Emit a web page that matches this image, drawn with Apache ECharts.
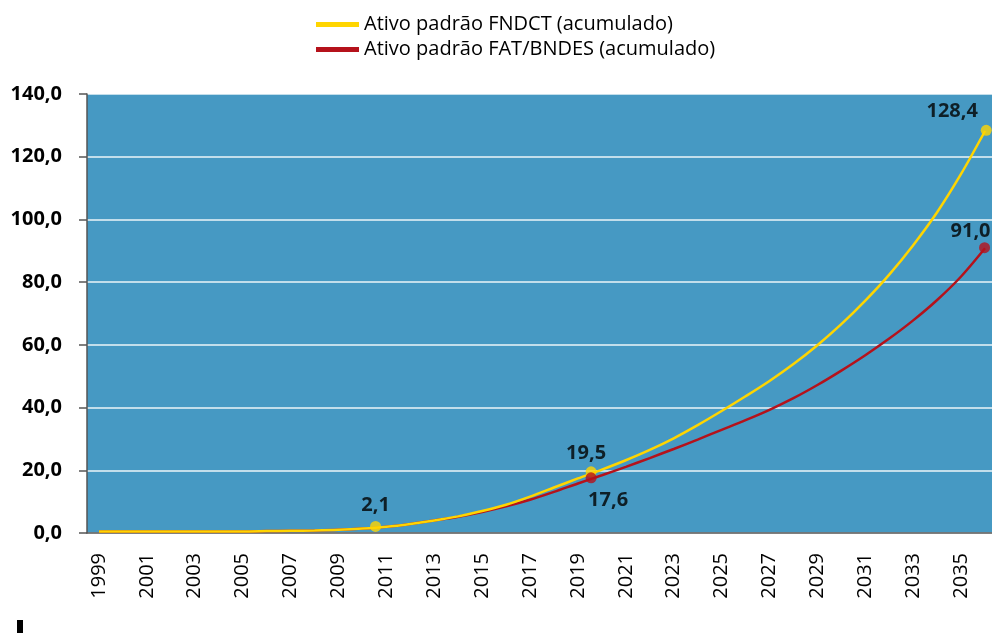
<!DOCTYPE html>
<html>
<head>
    <meta charset="utf-8">
    <title>Ativo padrão FNDCT x FAT/BNDES</title>
    <script src="https://cdn.jsdelivr.net/npm/echarts@6/dist/echarts.min.js"></script>
    <style type="text/css">
        * {
            margin: 0px;
            padding: 0px;
        }

        #main {
            width: 992px;
            height: 633px;
            background: #fff;
        }
    </style>
</head>
<body>
<div id="main"></div>
<script type="text/javascript">
    // anos do eixo x
    var years = [1999, 2000, 2001, 2002, 2003, 2004, 2005, 2006, 2007, 2008, 2009,
        2010, 2011, 2012, 2013, 2014, 2015, 2016, 2017, 2018, 2019, 2020, 2021, 2022,
        2023, 2024, 2025, 2026, 2027, 2028, 2029, 2030, 2031, 2032, 2033, 2034, 2035, 2036];

    // ativo padrão FNDCT (acumulado)
    var fndct = [0.5, 0.5, 0.5, 0.5, 0.5, 0.5, 0.5, 0.6, 0.7, 0.8, 1.0,
        1.4, 2.0, 2.9, 4.0, 5.3, 7.0, 9.0, 11.6, 14.5, 17.4, 20.2, 23.2, 26.5,
        30.2, 34.4, 38.9, 43.6, 48.5, 53.9, 59.9, 66.6, 74.1, 82.4, 91.8, 102.3, 114.5, 128.2];

    // ativo padrão FAT/BNDES (acumulado)
    var fatBndes = [0.5, 0.5, 0.5, 0.5, 0.5, 0.5, 0.5, 0.6, 0.7, 0.8, 1.0,
        1.4, 2.0, 2.9, 4.0, 5.2, 6.7, 8.5, 10.6, 13.1, 15.8, 18.4, 21.1, 23.9,
        26.8, 29.8, 32.9, 36.0, 39.3, 43.0, 47.2, 51.8, 56.7, 62.0, 67.8, 74.3, 81.8, 90.8];

    // pontos destacados
    var fndctMarkYears = [2010.55, 2019.55, 2036.05];
    var fndctMarks = [2.1, 19.5, 128.4];
    var fatMarkYears = [2019.55, 2035.98];
    var fatMarks = [17.6, 91.0];

    var myChart = echarts.init(document.getElementById('main'));

    function fmt(v) {
        return v.toFixed(1).replace('.', ',');
    }

    function pairs(xs, ys) {
        var out = [];
        for (var i = 0; i < xs.length; i++) {
            out.push([xs[i], ys[i]]);
        }
        return out;
    }

    var labelFont = {
        color: '#000',
        fontFamily: 'Open Sans',
        fontWeight: 'bold',
        fontSize: 20
    };

    // posição de cada rótulo
    var fndctLabels = [
        {position: 'top', distance: 6, offset: [0, 0]},
        {position: 'top', distance: 3, offset: [-5, 0]},
        {position: 'top', distance: 4, offset: [-34, 0]}
    ];
    var fatLabels = [
        {position: 'bottom', distance: 7, offset: [17, 0]},
        {position: 'top', distance: 1, offset: [-14, 0]}
    ];

    function markData(xs, ys, labels) {
        var out = [];
        for (var i = 0; i < xs.length; i++) {
            out.push({
                value: [xs[i], ys[i]],
                label: Object.assign({show: true, formatter: function (p) {
                    return fmt(p.value[1]);
                }}, labelFont, labels[i])
            });
        }
        return out;
    }

    var option = {
        animation: false,
        legend: {
            orient: 'vertical',
            left: 311,
            top: 9,
            itemWidth: 43,
            itemHeight: 5,
            itemGap: 4,
            icon: 'rect',
            textStyle: {
                fontFamily: 'Open Sans',
                fontSize: 20,
                color: '#000',
                lineHeight: 21
            },
            data: ['Ativo padrão FNDCT (acumulado)', 'Ativo padrão FAT/BNDES (acumulado)']
        },
        grid: {
            left: 87,
            top: 94,
            width: 910,
            height: 439,
            show: true,
            backgroundColor: '#4699C3',
            borderWidth: 0,
            outerBoundsMode: 'none'
        },
        xAxis: [{
            type: 'category',
            data: years.map(String),
            boundaryGap: true,
            axisLine: {lineStyle: {color: '#555', width: 1.5}},
            axisTick: {interval: 0, length: 7, lineStyle: {color: '#555', width: 1.5}},
            axisLabel: {
                interval: 1,
                rotate: 90,
                margin: 20,
                color: '#000',
                fontFamily: 'Open Sans',
                fontSize: 20
            },
            splitLine: {show: false}
        }, {
            type: 'value',
            min: 1998.5,
            max: 2036.5,
            show: false
        }],
        yAxis: {
            type: 'value',
            min: 0,
            max: 140,
            interval: 20,
            axisLine: {show: true, lineStyle: {color: '#555', width: 1.5}},
            axisTick: {show: true, length: 8, lineStyle: {color: '#555', width: 1.5}},
            axisLabel: {
                formatter: fmt,
                margin: 25,
                color: '#000',
                fontFamily: 'Open Sans',
                fontWeight: 'bold',
                fontSize: 20
            },
            splitLine: {lineStyle: {color: 'rgba(255,255,255,0.9)', width: 1.5}}
        },
        series: [{
            name: 'Ativo padrão FAT/BNDES (acumulado)',
            type: 'line',
            xAxisIndex: 1,
            data: pairs(years, fatBndes),
            smooth: 0.3,
            showSymbol: false,
            color: '#B5121B',
            lineStyle: {width: 2.5, color: '#B5121B'},
            z: 2
        }, {
            name: 'Ativo padrão FNDCT (acumulado)',
            type: 'line',
            xAxisIndex: 1,
            data: pairs(years, fndct),
            smooth: 0.3,
            showSymbol: false,
            color: '#FFD500',
            lineStyle: {width: 2.5, color: '#FFD500'},
            z: 3
        }, {
            type: 'scatter',
            xAxisIndex: 1,
            symbolSize: 11,
            itemStyle: {color: '#FFD500'},
            data: markData(fndctMarkYears, fndctMarks, fndctLabels),
            z: 4
        }, {
            type: 'scatter',
            xAxisIndex: 1,
            symbolSize: 11,
            itemStyle: {color: '#B5121B'},
            data: markData(fatMarkYears, fatMarks, fatLabels),
            z: 4
        }],
        graphic: [{
            type: 'rect',
            left: 17,
            top: 620,
            shape: {width: 6, height: 13},
            style: {fill: '#000'}
        }]
    };

    myChart.setOption(option);
</script>
</body>
</html>
